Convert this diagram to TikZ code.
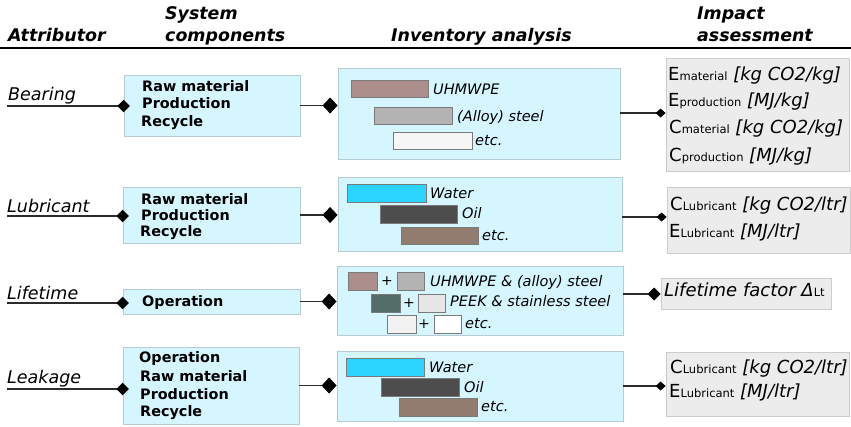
\documentclass[tikz,border=0pt]{standalone}
\usepackage{fontspec}
\setmainfont{DejaVu Sans}
\usetikzlibrary{arrows.meta}
\definecolor{boxblue}{HTML}{D5F6FF}
\definecolor{boxline}{HTML}{B4CCD2}
\definecolor{impfill}{HTML}{ECECEC}
\definecolor{impline}{HTML}{CCCCCC}
\definecolor{barline}{HTML}{7A7A7A}
\definecolor{connc}{HTML}{2B2B2B}
\definecolor{cRose}{HTML}{AC8F8D}
\definecolor{cGray}{HTML}{B3B3B3}
\definecolor{cWhiteish}{HTML}{F7F7F7}
\definecolor{cWater}{HTML}{2AD4FF}
\definecolor{cOil}{HTML}{4D4D4D}
\definecolor{cBrown}{HTML}{917C6F}
\definecolor{cSlate}{HTML}{536C67}
\definecolor{cLight}{HTML}{E6E6E6}
\definecolor{cLighter}{HTML}{F2F2F2}
\newcommand\impl[3]{#1{\fontsize{11.5}{14}\selectfont #2} {\itshape #3}}
\begin{document}
\begin{tikzpicture}[x=1pt,y=-1pt,
  sysbox/.style={draw=boxline, fill=boxblue, line width=0.8pt, inner sep=0},
  impbox/.style={draw=impline, fill=impfill, line width=0.8pt, inner sep=0},
  bar/.style={draw=barline, line width=0.6pt, inner sep=0},
  hdr/.style={font=\fontsize{17.4}{20}\selectfont\bfseries\itshape, anchor=base west, inner sep=0},
  attr/.style={font=\fontsize{17.5}{20}\selectfont\itshape, anchor=base west, inner sep=0},
  comp/.style={font=\fontsize{14.4}{17}\selectfont\bfseries, anchor=base west, inner sep=0},
  item/.style={font=\fontsize{14.5}{17}\selectfont\itshape, anchor=base west, inner sep=0},
  plus/.style={font=\fontsize{14}{17}\selectfont, inner sep=0},
  imp/.style={font=\fontsize{18}{21}\selectfont, anchor=base west, inner sep=0},
  conn/.style={draw=connc, line width=1.2pt},
  dA/.style={-{Diamond[length=12.5pt,width=12.5pt,color=black]}, shorten >=-6.25pt},
  dB/.style={-{Diamond[length=15pt,width=16pt,color=black]}},
  dC/.style={-{Diamond[length=10pt,width=9pt,color=black]}},
  dD/.style={-{Diamond[length=13pt,width=13pt,color=black]}}
]
\useasboundingbox (0,0) rectangle (851,426);

% headers
\node[hdr] (h1) at (8,41) {Attributor};
\node[hdr] (h2a) at (165,19) {System};
\node[hdr] (h2b) at (165,41) {components};
\node[hdr] (h3) at (391,41) {Inventory analysis};
\node[hdr] (h4a) at (697,19) {Impact};
\node[hdr] (h4b) at (697,41) {assessment};
\draw[line width=1.5pt] (0,48) -- (851,48);

% system boxes
\node[sysbox, minimum width=176pt, minimum height=61pt] (s1) at (212,105.5) {};
\node[sysbox, minimum width=177pt, minimum height=56pt] (s2) at (211.5,215) {};
\node[sysbox, minimum width=177pt, minimum height=25pt] (s3) at (211.5,301.5) {};
\node[sysbox, minimum width=176pt, minimum height=77pt] (s4) at (211,385.5) {};

% inventory boxes
\node[sysbox, minimum width=282pt, minimum height=91pt] (v1) at (479,113.5) {};
\node[sysbox, minimum width=284pt, minimum height=74pt] (v2) at (480,214) {};
\node[sysbox, minimum width=286pt, minimum height=69pt] (v3) at (480,300.5) {};
\node[sysbox, minimum width=286pt, minimum height=70pt] (v4) at (480,386) {};

% impact boxes
\node[impbox, minimum width=183pt, minimum height=113pt] (m1) at (757.5,114.5) {};
\node[impbox, minimum width=183pt, minimum height=66pt] (m2) at (758.5,220) {};
\node[impbox, minimum width=170pt, minimum height=31pt] (m3) at (746,293.5) {};
\node[impbox, minimum width=183pt, minimum height=64pt] (m4) at (757.5,384) {};

% attributor labels
\node[attr] (t1) at (8,100) {Bearing};
\node[attr] (t2) at (7,212) {Lubricant};
\node[attr] (t3) at (7,299) {Lifetime};
\node[attr] (t4) at (7,383) {Leakage};

% system texts
\node[comp] (c11) at (142,91) {Raw material};
\node[comp] (c12) at (142,108.5) {Production};
\node[comp] (c13) at (141,126) {Recycle};
\node[comp] (c21) at (141,204) {Raw material};
\node[comp] (c22) at (141,220.5) {Production};
\node[comp] (c23) at (140,236.7) {Recycle};
\node[comp] (c31) at (142,306.5) {Operation};
\node[comp] (c41) at (139,362) {Operation};
\node[comp] (c42) at (140,381.5) {Raw material};
\node[comp] (c43) at (140,399) {Production};
\node[comp] (c44) at (140,416.5) {Recycle};

% inventory row 1
\node[bar, fill=cRose, minimum width=77pt, minimum height=17pt] (b11) at (389.5,88.5) {};
\node[bar, fill=cGray, minimum width=78pt, minimum height=17pt] (b12) at (413,115.5) {};
\node[bar, fill=cWhiteish, minimum width=79pt, minimum height=17pt] (b13) at (432.5,140.5) {};
\node[item] (i11) at (433,94.3) {UHMWPE};
\node[item] (i12) at (457,121) {(Alloy) steel};
\node[item] (i13) at (475,145) {etc.};

% inventory row 2
\node[bar, fill=cWater, minimum width=79pt, minimum height=18pt] (b21) at (386.5,193) {};
\node[bar, fill=cOil, minimum width=77pt, minimum height=18pt] (b22) at (418.5,214) {};
\node[bar, fill=cBrown, minimum width=77pt, minimum height=17pt] (b23) at (439.5,235.5) {};
\node[item] (i21) at (430,198.3) {Water};
\node[item] (i22) at (462,218.3) {Oil};
\node[item] (i23) at (482,240) {etc.};

% inventory row 3
\node[bar, fill=cRose, minimum width=29pt, minimum height=18pt] (q1) at (362.5,281) {};
\node[plus] (p1) at (387,281) {+};
\node[bar, fill=cGray, minimum width=27pt, minimum height=18pt] (q2) at (410.5,281) {};
\node[item] (i31) at (430,286.7) {UHMWPE \& (alloy) steel};
\node[bar, fill=cSlate, minimum width=29pt, minimum height=18pt] (q3) at (385.5,303) {};
\node[plus] (p2) at (409,303) {+};
\node[bar, fill=cLight, minimum width=27pt, minimum height=18pt] (q4) at (431.5,303) {};
\node[item] (i32) at (450,306.7) {PEEK \& stainless steel};
\node[bar, fill=cLighter, minimum width=29pt, minimum height=18pt] (q5) at (401.5,324) {};
\node[plus] (p3) at (424,324) {+};
\node[bar, fill=white, minimum width=27pt, minimum height=18pt] (q6) at (447.5,324) {};
\node[item] (i33) at (465,328.3) {etc.};

% inventory row 4
\node[bar, fill=cWater, minimum width=78pt, minimum height=18pt] (b41) at (385,367) {};
\node[bar, fill=cOil, minimum width=78pt, minimum height=18pt] (b42) at (420,387) {};
\node[bar, fill=cBrown, minimum width=78pt, minimum height=18pt] (b43) at (438,407) {};
\node[item] (i41) at (429,372.3) {Water};
\node[item] (i42) at (464,392.3) {Oil};
\node[item] (i43) at (481,411.7) {etc.};

% impact texts
\node[imp] (e11) at (668,80.7) {\impl{E}{material}{[kg CO2/kg]}};
\node[imp] (e12) at (668,106.7) {\impl{E}{production}{[MJ/kg]}};
\node[imp] (e13) at (669,133.3) {\impl{C}{material}{[kg CO2/kg]}};
\node[imp] (e14) at (669,161.7) {\impl{C}{production}{[MJ/kg]}};
\node[imp] (e21) at (670,210.7) {\impl{C}{Lubricant}{[kg CO2/ltr]}};
\node[imp] (e22) at (669,237.3) {\impl{E}{Lubricant}{[MJ/ltr]}};
\node[imp] (e31) at (664,296.7) {{\itshape Lifetime factor Δ}{\fontsize{11.5}{14}\selectfont Lt}};
\node[imp] (e41) at (670,373.3) {\impl{C}{Lubricant}{[kg CO2/ltr]}};
\node[imp] (e42) at (669,397.3) {\impl{E}{Lubricant}{[MJ/ltr]}};

% connectors: attributor -> system
\coordinate (a1) at (7,106);
\coordinate (a2) at (7,216);
\coordinate (a3) at (7,303);
\coordinate (a4) at (7,389);
\draw[conn, dA] (a1) -- (a1 -| s1.west);
\draw[conn, dA] (a2) -- (a2 -| s2.west);
\draw[conn, dA] (a3) -- (a3 -| s3.west);
\draw[conn, dA] (a4) -- (a4 -| s4.west);

% system -> inventory
\draw[conn, dB] (s1.east) -- (s1.east -| v1.west);
\draw[conn, dB] (s2.east) -- (s2.east -| v2.west);
\draw[conn, dB] (s3.east) -- (s3.east -| v3.west);
\draw[conn, dB] (s4.east) -- (s4.east -| v4.west);

% inventory -> impact
\coordinate (r1) at (0,113);
\coordinate (r2) at (0,217);
\coordinate (r3) at (0,294);
\coordinate (r4) at (0,386);
\draw[conn, dC] (v1.east |- r1) -- (m1.west |- r1);
\draw[conn, dC] (v2.east |- r2) -- (m2.west |- r2);
\draw[conn, dD] (v3.east |- r3) -- (m3.west |- r3);
\draw[conn, dC] (v4.east |- r4) -- (m4.west |- r4);
\end{tikzpicture}
\end{document}
